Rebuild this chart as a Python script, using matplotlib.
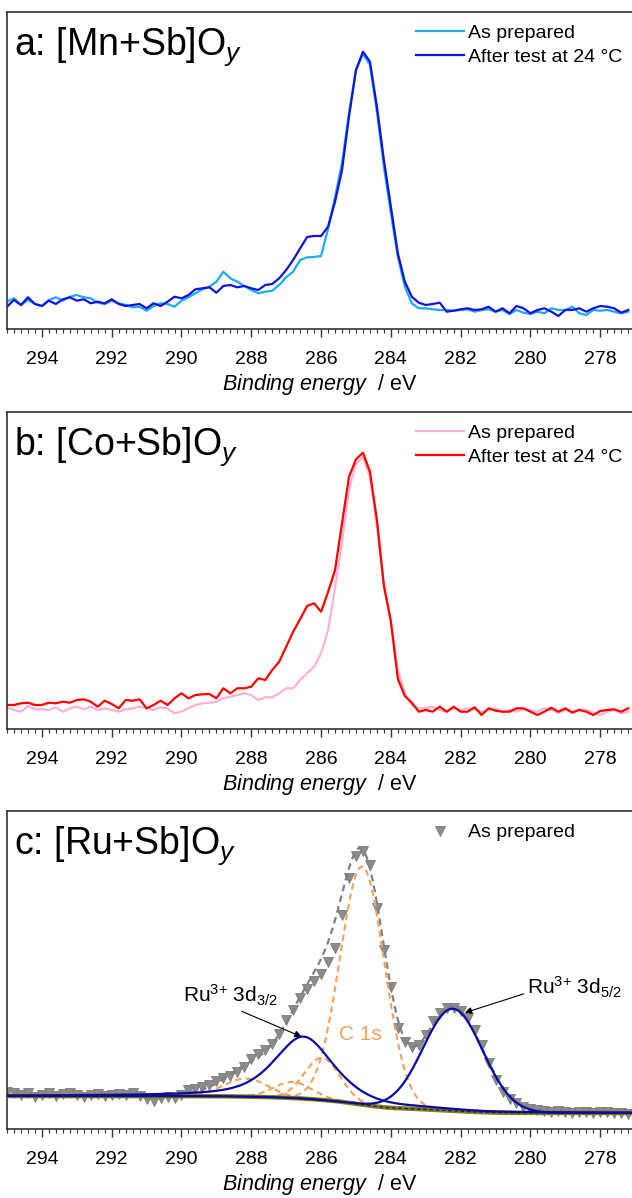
import numpy as np
import matplotlib
matplotlib.use('Agg')
import matplotlib.pyplot as plt
from matplotlib.ticker import MultipleLocator

plt.rcParams['font.family'] = ['Liberation Sans', 'DejaVu Sans']
plt.rcParams['mathtext.fontset'] = 'custom'
plt.rcParams['mathtext.rm'] = 'Liberation Sans'
plt.rcParams['mathtext.it'] = 'Liberation Sans:italic'

# binding energy grid, eV (0.2 eV steps, 295.0 -> 277.2)
energy = np.round(np.arange(295.0, 277.1, -0.2), 1)

# a: [Mn+Sb]Oy  (intensity, a.u.)
mn_prep = [27.3, 30.7, 24, 29, 25, 23, 29, 31.7, 28.3, 32.3,
           34, 31.7, 30.7, 26.3, 25, 28.3, 25.7, 24, 21.7, 22.3,
           18.3, 23, 25.7, 25, 22.3, 28.3, 31.7, 35.7, 39.7, 42.3,
           47.3, 57.3, 50.7, 47.3, 43, 39, 35.7, 37.3, 38.3, 44,
           51.7, 57.3, 69, 71.7, 72, 73, 100, 132, 166, 216,
           259, 275, 264, 217.3, 162.3, 115.7, 72.3, 42.3, 25.7, 20.7,
           20.7, 19.7, 19, 19, 18.3, 19, 19.7, 17.3, 19, 19.7,
           17.3, 19, 15, 19, 16.3, 15, 17.3, 15.7, 20.7, 19,
           19, 22.3, 15.7, 14, 19, 18.3, 19, 17.3, 15.7, 17.3]
mn_test = [22.3, 29, 24, 31.7, 25, 23, 28.3, 25, 29.7, 31.7,
           28.3, 29.7, 25.7, 27.3, 25.7, 29.7, 25, 23, 24, 25,
           20.7, 25.7, 23, 27.3, 32.3, 30.7, 34, 39.7, 40.7, 41.7,
           36.3, 43, 44, 41.7, 43, 40.7, 39, 44, 45, 50.7,
           59, 69, 80.7, 92, 93, 93, 102.3, 127.3, 159, 212.3,
           259, 277.3, 267.3, 222.3, 169, 122.3, 75.7, 47.3, 32.3, 26.3,
           24, 25, 26.3, 17.3, 18.3, 19.7, 20.7, 19, 19.7, 22.3,
           17.3, 20.7, 15.7, 23, 20.7, 15.7, 19, 20.7, 17.3, 13,
           19, 19, 20.7, 17.3, 20.7, 23, 22.3, 20.7, 16.3, 19]

# b: [Co+Sb]Oy
co_prep = [21.7, 19, 17.3, 23, 19.7, 19.7, 19, 21.7, 17.3, 20.7,
           22.3, 19.7, 22.3, 19, 20.7, 19, 17.3, 19.7, 20.7, 22.3,
           20.7, 19, 21.7, 20.7, 15.7, 17.3, 20.7, 24, 25.7, 26.3,
           27.3, 30.7, 32.3, 34, 35.7, 34, 29, 31.7, 31.7, 35.7,
           40.7, 40.7, 49, 55.7, 62.3, 75.7, 99, 141, 187.3, 239,
           265.7, 271.7, 252.3, 202.3, 145.7, 105.7, 59, 35.7, 24, 20.7,
           20.7, 22.3, 19, 17.3, 20.7, 19, 20.7, 19.7, 17.3, 19,
           20.7, 17.3, 19, 17.3, 19.7, 19, 17.3, 20.7, 19, 16.3,
           19, 17.3, 19.7, 19, 16.3, 14, 17.3, 19, 15.7, 17.3]
co_test = [24, 24, 25.7, 26.3, 24, 24, 26.3, 25.7, 27.3, 26.3,
           29, 29.7, 27.3, 22.3, 28.3, 25, 20.7, 29, 28.3, 29.7,
           20.7, 24, 28.3, 24, 30.7, 35.7, 30.7, 34, 34.7, 35,
           30.7, 40.7, 35.7, 40.7, 40.7, 42.3, 50.7, 49, 59, 67.3,
           82.3, 97.3, 110, 123, 125.7, 117.3, 137, 159, 205.7, 252.3,
           269.7, 276.3, 257.3, 209, 143, 108, 50, 33, 26.3, 17.3,
           19, 17.3, 22.3, 17.3, 22.3, 17.3, 17.3, 21.7, 14, 20.7,
           18.3, 17.3, 17.3, 20.7, 20.7, 17.3, 14, 17.3, 21.3, 17.3,
           20.7, 16.3, 19, 17.3, 14, 18, 19, 19.7, 17.3, 20.7]

# c: [Ru+Sb]Oy measured points
ru_prep = [37.3, 35.7, 34, 35.7, 32.3, 34, 35.7, 33, 35, 36.3,
           34, 32.3, 34, 35, 33, 34, 35, 34, 35.7, 33,
           29.7, 28.3, 30.7, 32.3, 30.7, 34, 39, 39.7, 41.7, 44,
           48.3, 50.7, 53, 57.3, 62.3, 69.7, 75, 79, 85, 95,
           109, 119, 130.7, 140, 148, 155, 166.7, 180.7, 214, 250.7,
           273, 278.3, 264, 220.7, 179, 142.3, 100.7, 87.3, 82.3, 84,
           94, 108.3, 116.3, 120.7, 121.3, 118, 110.7, 99, 84, 65.7,
           49, 37.3, 29.7, 25.7, 21.7, 20, 19, 18.3, 17.3, 18,
           17.3, 16.3, 17, 17.3, 16.3, 16.7, 17.3, 15.7, 16.3, 15]

# c: fitted peaks (centre eV, height, FWHM eV, Lorentzian fraction)
ru_centres = [282.22, 286.5]
ru_heights = [102, 62]
ru_fwhm = [2.0, 2.0]
ru_lfrac = [0.0, 0.6]
c_centres = [284.82, 285.97, 286.8, 288.15]
c_heights = [238, 42, 16, 18]
c_fwhm = [1.5, 1.2, 1.3, 1.5]
c_lfrac = [0.0, 0.0, 0.0, 0.0]
bg_high, bg_low = 33.0, 16.0   # Shirley end points


def pvoigt(e, c, h, w, f):
    g = np.exp(-4 * np.log(2) * ((e - c) / w) ** 2)
    l = 1 / (1 + 4 * ((e - c) / w) ** 2)
    return h * ((1 - f) * g + f * l)


e_fit = np.arange(277.0, 295.01, 0.02)
ru_comps = [pvoigt(e_fit, *p) for p in zip(ru_centres, ru_heights, ru_fwhm, ru_lfrac)]
c_comps = [pvoigt(e_fit, *p) for p in zip(c_centres, c_heights, c_fwhm, c_lfrac)]
total = np.sum(ru_comps + c_comps, axis=0)
cum = np.cumsum(total)
bg = bg_low + (bg_high - bg_low) * cum / cum[-1]
envelope = bg + total

fig = plt.figure(figsize=(6.32, 11.98), dpi=100)
H = 1198.0
ax_a = fig.add_axes([7 / 632, 1 - 329 / H, 1 - 7 / 632, 317 / H])
ax_b = fig.add_axes([7 / 632, 1 - 729 / H, 1 - 7 / 632, 317 / H])
ax_c = fig.add_axes([7 / 632, 1 - 1129 / H, 1 - 7 / 632, 318 / H])


def style(ax, ymax, title):
    ax.set_xlim(295, 277.09)
    ax.set_ylim(0, ymax)
    ax.set_yticks([])
    ax.spines['right'].set_visible(False)
    for s in ['left', 'top', 'bottom']:
        ax.spines[s].set_color('#333333')
        ax.spines[s].set_linewidth(1.2)
    ax.xaxis.set_major_locator(MultipleLocator(2))
    ax.xaxis.set_minor_locator(MultipleLocator(0.2))
    ax.tick_params(axis='x', which='major', direction='out', length=6,
                   width=1, labelsize=14, pad=10, color='#333333')
    ax.tick_params(axis='x', which='minor', direction='out', length=3,
                   width=0.8, color='#333333')
    ax.set_xlabel(r'$\it{Binding\ energy}$  / eV', fontsize=15.5, labelpad=2.5)
    ax.text(0.011, 0.865, title, transform=ax.transAxes, fontsize=27,
            ha='left', va='baseline')
    ax.legend(loc='upper left', bbox_to_anchor=(0.654, 0.96), frameon=False,
              fontsize=14, handlelength=2.5, handletextpad=0.2,
              borderpad=0, borderaxespad=0, labelspacing=0.3, numpoints=1)


ax_a.plot(energy, mn_prep, color='#1EAAF0', lw=1.6, label='As prepared')
ax_a.plot(energy, mn_test, color='#1212D8', lw=1.6, label='After test at 24 °C')
style(ax_a, 317, r'a: [Mn+Sb]O$_{y}$')

ax_b.plot(energy, co_prep, color='#FFB0D8', lw=1.6, label='As prepared')
ax_b.plot(energy, co_test, color='#FF0000', lw=1.6, label='After test at 24 °C')
style(ax_b, 317, r'b: [Co+Sb]O$_{y}$')

ax_c.plot(energy, ru_prep, ls='none', marker='v', ms=6.5, color='#8C8C8C',
          mec='#7A7A7A', mew=0.6, label='As prepared', zorder=2)
ax_c.plot(e_fit, envelope, color='#808080', lw=1.6, ls=(0, (3, 2)), zorder=3)
for comp in c_comps:
    ax_c.plot(e_fit, bg + comp, color='#F5A05A', lw=1.5, ls=(0, (3, 2)), zorder=3)
ax_c.plot(e_fit, bg, color='#808000', lw=3.2, zorder=3)
ax_c.plot(e_fit, bg, color='#1010A0', lw=0.9, ls=(0, (3, 2)), zorder=4)
for comp in ru_comps:
    ax_c.plot(e_fit, bg + comp, color='#0A0AA0', lw=1.6, zorder=5)
style(ax_c, 318, r'c: [Ru+Sb]O$_{y}$')

ax_c.annotate(r'Ru$^{3{+}}$ 3d$_{3/2}$', xy=(286.56, 92.3),
              xytext=(289.96, 126), fontsize=15, ha='left', va='baseline',
              arrowprops=dict(arrowstyle='-|>', color='black', lw=0.8,
                              mutation_scale=10, shrinkA=0, shrinkB=0,
                              relpos=(0.55, 0.0)))
ax_c.annotate(r'Ru$^{3{+}}$ 3d$_{5/2}$', xy=(281.88, 116.3),
              xytext=(280.11, 134), fontsize=15, ha='left', va='baseline',
              arrowprops=dict(arrowstyle='-|>', color='black', lw=0.8,
                              mutation_scale=10, shrinkA=0, shrinkB=0,
                              relpos=(0.0, 0.3)))
ax_c.text(284.86, 94, 'C 1s', color='#F5A05A', fontsize=15, ha='center', va='center')

fig.savefig('out.png', dpi=100)
